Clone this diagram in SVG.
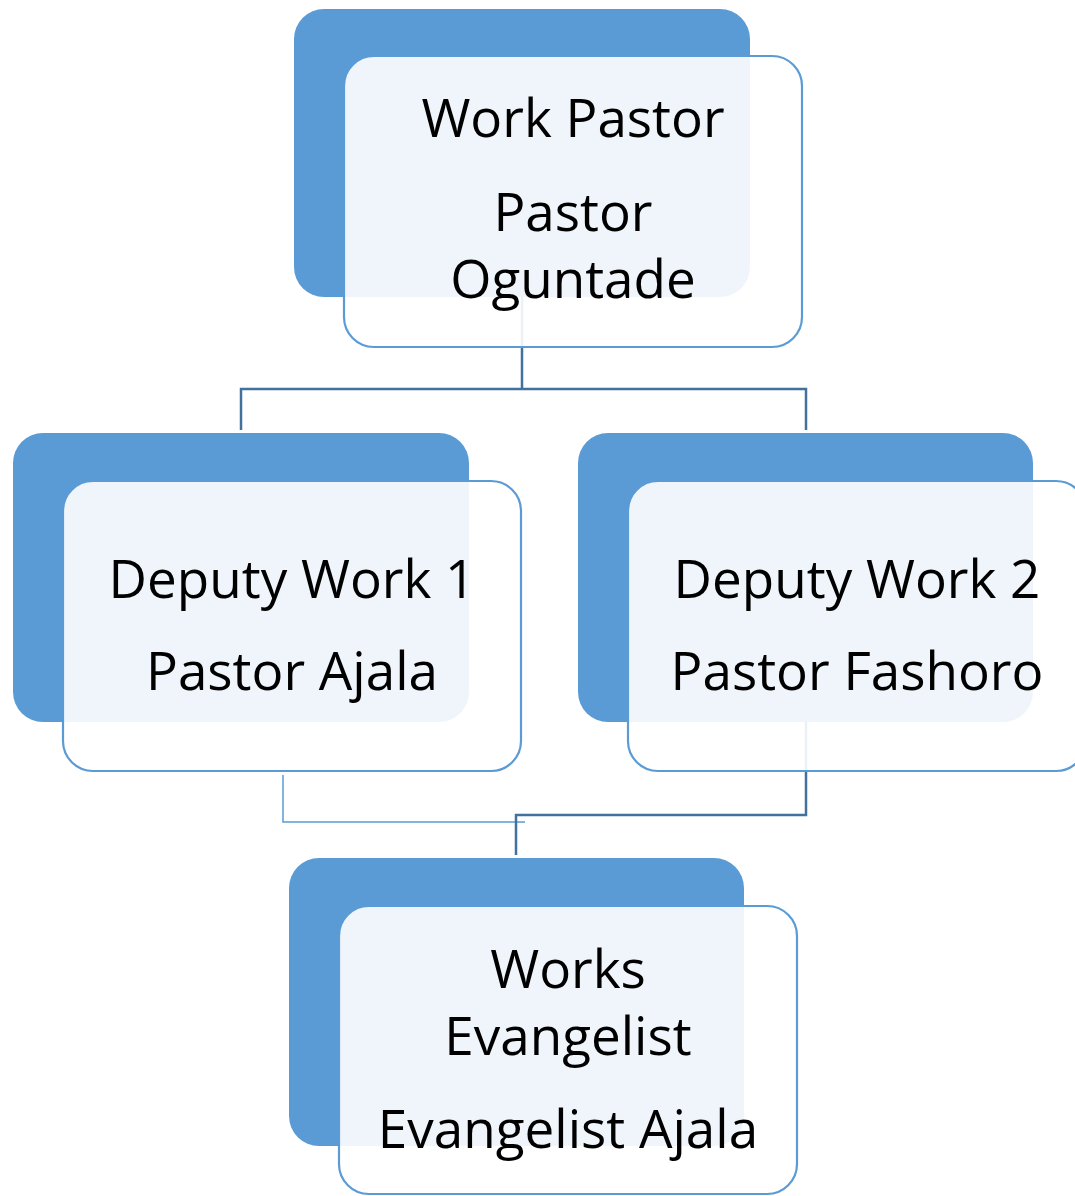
<svg xmlns="http://www.w3.org/2000/svg" width="1075" height="1196" viewBox="0 0 1075 1196">
<style>
.back{fill:#5B9BD5;}
.front{fill:#FFFFFF;fill-opacity:0.9;stroke:#5B9BD5;stroke-width:2.2;}
.lbl{font-family:"Open Sans","Liberation Sans",sans-serif;font-size:53px;fill:#000;text-anchor:middle;}
.conn{fill:none;stroke:#41719C;stroke-width:2.5;}
.conn2{fill:none;stroke:#5B9BD5;stroke-width:1.5;}
</style>
<rect width="1075" height="1196" fill="#FFFFFF"/>
<g id="connectors">
<path class="conn" d="M522,297 V389 M241,430 V389 H806 V430"/>
<path class="conn2" d="M283,775 V822 H525"/>
<path class="conn" stroke="#4A7EBB" d="M806,722 V815 H516 V855"/>
</g>
<g id="node-work-pastor">
<rect class="back" x="294" y="9" width="456" height="288" rx="30"/>
<rect class="front" x="344" y="56" width="458" height="291" rx="30"/>
<text class="lbl" x="573" y="137">Work Pastor</text>
<text class="lbl" x="573" y="231">Pastor</text>
<text class="lbl" x="573" y="298">Oguntade</text>
</g>
<g id="node-deputy-1">
<rect class="back" x="13" y="433" width="456" height="289" rx="30"/>
<rect class="front" x="63" y="481" width="458" height="290" rx="30"/>
<text class="lbl" x="292" y="598">Deputy Work 1</text>
<text class="lbl" x="292" y="690">Pastor Ajala</text>
</g>
<g id="node-deputy-2">
<rect class="back" x="578" y="433" width="455" height="289" rx="30"/>
<rect class="front" x="628" y="481" width="458" height="290" rx="30"/>
<text class="lbl" x="857" y="598">Deputy Work 2</text>
<text class="lbl" x="857" y="690">Pastor Fashoro</text>
</g>
<g id="node-evangelist">
<rect class="back" x="289" y="858" width="455" height="288" rx="30"/>
<rect class="front" x="339" y="906" width="458" height="288" rx="30"/>
<text class="lbl" x="568" y="988">Works</text>
<text class="lbl" x="568" y="1055">Evangelist</text>
<text class="lbl" x="568" y="1148">Evangelist Ajala</text>
</g>
</svg>
